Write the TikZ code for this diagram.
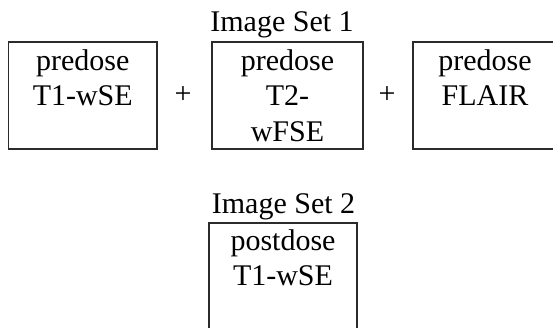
\documentclass[tikz,border=0pt]{standalone}
\usepackage{fontspec}
\setmainfont{Liberation Serif}
\usetikzlibrary{positioning}
\definecolor{ink}{HTML}{2B2B2B}
\tikzset{
  imgbox/.style={draw=ink, line width=1.5pt, inner sep=0pt, minimum height=107pt},
  seqtext/.style={font=\fontsize{30}{35.5}\selectfont, align=center, inner sep=0pt},
  optext/.style={font=\fontsize{30}{36}\selectfont, inner sep=0pt},
  settext/.style={font=\fontsize{30}{36}\selectfont, inner sep=0pt, anchor=base},
}
\begin{document}
\begin{tikzpicture}[x=1pt,y=-1pt]
  \clip (0,0) rectangle (553,328);

  % Image Set 1
  \node[settext] (set1) at (282,32) {Image Set 1};
  \node[imgbox, minimum width=148.5pt] (t1) at (82.75,95.5) {};
  \node[imgbox, minimum width=151pt] (t2) at (287.5,95.5) {};
  \node[imgbox, minimum width=160pt] (flair) at (493,95.5) {};
  \node[seqtext, below=8pt of t1.north] (t1txt) {predose\\T1-wSE};
  \node[seqtext, below=8pt of t2.north] (t2txt) {predose\\T2-\\wFSE};
  \node[seqtext, below=8pt of flair.north, xshift=-8pt] (flairtxt) {predose\\FLAIR};
  \node[optext] (plusA) at (183,95) {+};
  \node[optext] (plusB) at (387,95) {+};

  % Image Set 2
  \node[settext] (set2) at (283.5,214) {Image Set 2};
  \node[imgbox, minimum width=148pt] (post) at (283,276.5) {};
  \node[seqtext, below=7pt of post.north] (posttxt) {postdose\\T1-wSE};
\end{tikzpicture}
\end{document}
